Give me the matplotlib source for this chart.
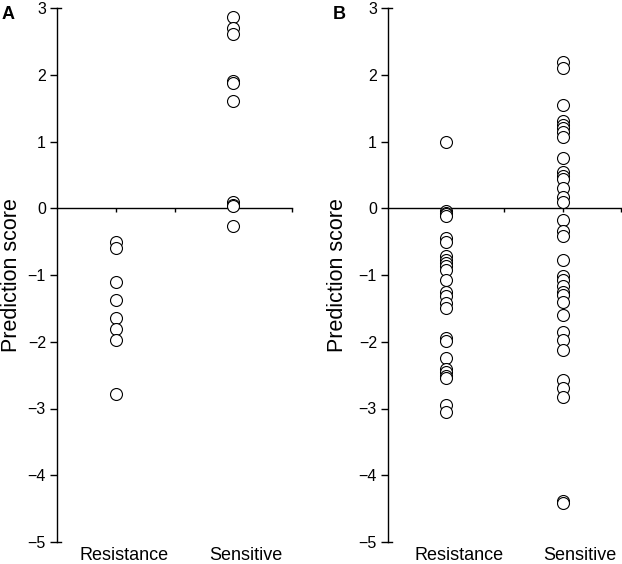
import matplotlib
matplotlib.use("Agg")
import matplotlib.pyplot as plt

plt.rcParams["font.family"] = ["Liberation Sans", "DejaVu Sans"]

groups = ["Resistance", "Sensitive"]
group_pos = [1, 3]

# panel A scores
a_resistance = [-0.51, -0.60, -1.11, -1.38, -1.65, -1.81, -1.97, -2.78]
a_sensitive = [2.86, 2.70, 2.61, 1.91, 1.87, 1.60, 0.10, 0.05, 0.03, -0.26]

# panel B scores
b_resistance = [0.99, -0.04, -0.07, -0.09, -0.11, -0.45, -0.51, -0.71, -0.77,
                -0.82, -0.87, -0.92, -1.07, -1.25, -1.31, -1.42, -1.50, -1.94,
                -1.99, -2.25, -2.41, -2.46, -2.51, -2.55, -2.95, -3.05]
b_sensitive = [2.19, 2.10, 1.54, 1.30, 1.25, 1.20, 1.14, 1.07, 0.76, 0.55, 0.49,
               0.44, 0.31, 0.17, 0.10, -0.17, -0.34, -0.41, -0.77, -1.02, -1.07,
               -1.17, -1.25, -1.30, -1.40, -1.60, -1.85, -1.97, -2.13, -2.58,
               -2.69, -2.83, -4.38, -4.42]

yticks = [3, 2, 1, 0, -1, -2, -3, -4, -5]

W, H = 622, 564
fig = plt.figure(figsize=(W / 100, H / 100), dpi=100)


def panel(rect, letter, series, label_x, label_offsets):
    ax = fig.add_axes(rect)
    for pos, vals in zip(group_pos, series):
        ax.scatter([pos] * len(vals), vals, s=74, facecolors="white",
                   edgecolors="black", linewidths=0.8, zorder=3, clip_on=False)
    ax.set_xlim(0, 4)
    ax.set_ylim(-5, 3)
    for side in ("top", "right"):
        ax.spines[side].set_visible(False)
    ax.spines["bottom"].set_position(("data", 0))
    ax.spines["bottom"].set_linewidth(1.0)
    ax.spines["left"].set_linewidth(1.0)
    ax.set_xticks([1, 2, 3, 4])
    ax.set_xticklabels([])
    ax.tick_params(axis="x", direction="out", length=3, width=1.0)
    ax.set_yticks(yticks)
    ax.tick_params(axis="y", direction="out", length=5, width=1.0, pad=3,
                   labelsize=11.5)
    # small end hooks on the y axis
    for yv in (3, -5):
        ax.plot([0, 0.07], [yv, yv], color="black", lw=1.0, clip_on=False)
    ax.set_ylabel("Prediction score", fontsize=15.5)
    ax.yaxis.set_label_coords(label_x, 0.5)
    for pos, name, dx in zip(group_pos, groups, label_offsets):
        ax.annotate(name, xy=(pos, -5), xytext=(dx, -13), textcoords="offset points",
                    ha="center", va="baseline", fontsize=13)
    fig.text(rect[0] - 55 / W, 1 - 14.5 / H, letter, fontsize=13, fontweight="bold",
             ha="left", va="center")
    return ax


bottom = 1 - 542 / H
height = 534 / H
panel([57 / W, bottom, 235 / W, height], "A", [a_resistance, a_sensitive],
      -0.15, [6, 9])
panel([388 / W, bottom, 233 / W, height], "B", [b_resistance, b_sensitive],
      -0.17, [9, 12])

fig.savefig("out.png", dpi=100)
